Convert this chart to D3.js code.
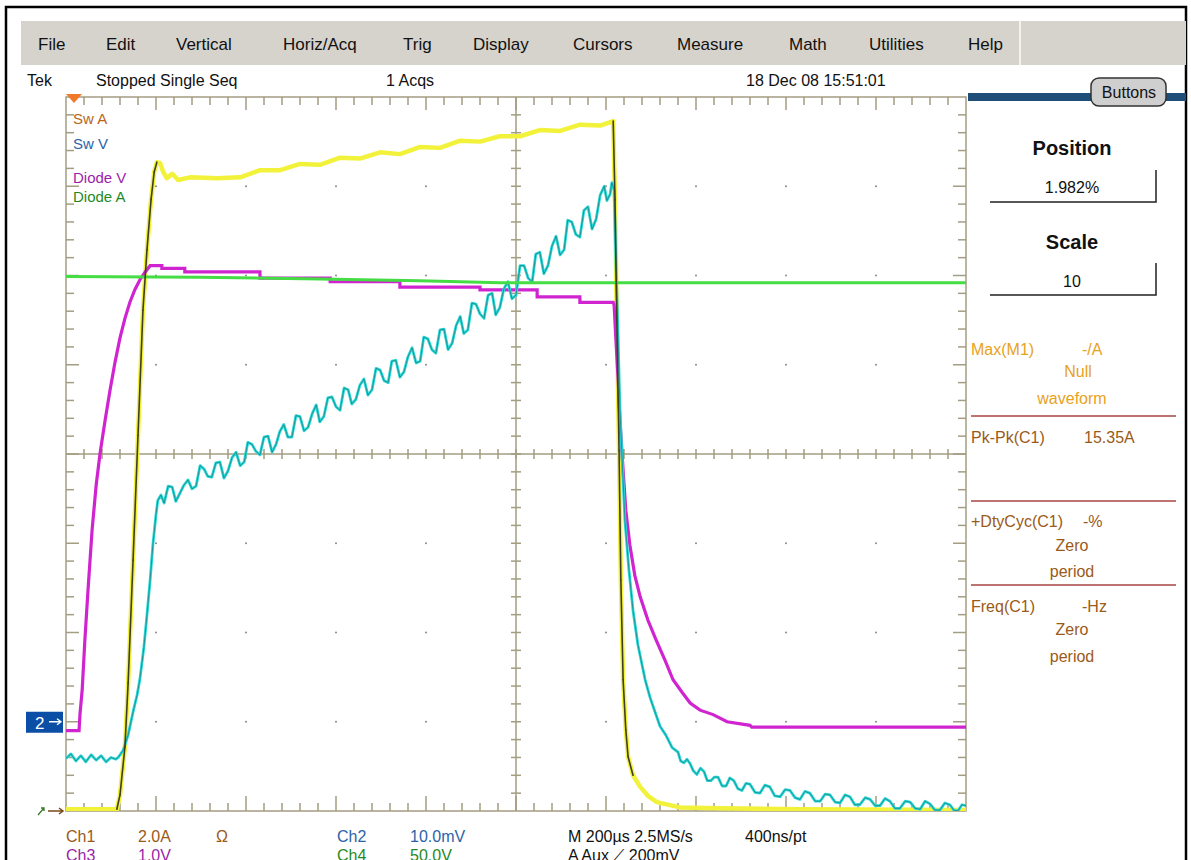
<!DOCTYPE html>
<html lang="en">
<head>
<meta charset="UTF-8">
<title>Tek scope capture</title>
<style>
    body { margin: 0; padding: 0; background: #ffffff; overflow: hidden; }
    svg { display: block; }
    text { font-family: "Liberation Sans", Arial, sans-serif; }
</style>
<script src="https://d3js.org/d3.v7.min.js"></script>
</head>
<body>
<div id="scope"></div>
<script>
// time in µs (200 µs/div), value in graticule divisions (-4 .. 4)
const ch1 = [ // Sw A, yellow
    [0, -3.98], [113, -3.98], [120, -3.82], [131, -3.28], [138, -2.57], [149, -1.19],
    [160, 0.21], [171, 1.61], [180, 2.29], [189, 2.85], [196, 3.16], [202, 3.27],
    [209, 3.26], [216, 3.16], [224, 3.09], [236, 3.14], [249, 3.07], [276, 3.10],
    [336, 3.09], [387, 3.10], [431, 3.18], [476, 3.18], [520, 3.25], [564, 3.24],
    [609, 3.32], [653, 3.31], [698, 3.38], [742, 3.36], [787, 3.44], [831, 3.43],
    [876, 3.51], [920, 3.50], [964, 3.56], [1009, 3.56], [1053, 3.63], [1098, 3.62],
    [1142, 3.69], [1187, 3.68], [1216, 3.73], [1220, 2.85], [1224, 1.50], [1229, 0.04],
    [1233, -1.41], [1238, -2.53], [1244, -3.09], [1249, -3.39], [1260, -3.60],
    [1276, -3.73], [1293, -3.83], [1313, -3.90], [1364, -3.96], [1453, -3.97],
    [1631, -3.98], [2000, -3.99]
];

const ch2 = [ // Sw V, cyan
    [0, -3.41], [11, -3.36], [22, -3.44], [33, -3.38], [44, -3.45], [56, -3.37],
    [67, -3.43], [78, -3.38], [89, -3.45], [100, -3.40], [111, -3.42], [116, -3.40],
    [127, -3.32], [138, -3.15], [149, -2.89], [158, -2.70], [164, -2.53], [173, -2.17],
    [180, -1.80], [187, -1.41], [193, -1.02], [200, -0.68], [204, -0.52], [211, -0.46],
    [218, -0.55], [227, -0.36], [236, -0.37], [244, -0.53], [253, -0.44], [262, -0.35],
    [271, -0.29], [280, -0.39], [289, -0.36], [298, -0.13], [307, -0.17], [315, -0.25],
    [324, -0.26], [333, -0.10], [342, -0.09], [351, -0.27], [360, -0.19], [369, -0.04],
    [378, 0.02], [387, -0.13], [396, -0.09], [404, 0.13], [413, 0.11], [422, 0.03],
    [431, -0.01], [440, 0.19], [449, 0.20], [458, 0.02], [467, 0.11], [475, 0.25],
    [484, 0.33], [493, 0.19], [502, 0.19], [511, 0.43], [520, 0.42], [529, 0.26],
    [538, 0.30], [547, 0.45], [556, 0.55], [564, 0.36], [573, 0.42], [582, 0.63],
    [591, 0.64], [600, 0.53], [609, 0.49], [618, 0.74], [627, 0.72], [635, 0.56],
    [644, 0.61], [653, 0.77], [662, 0.84], [671, 0.66], [680, 0.72], [689, 0.96],
    [698, 0.94], [707, 0.82], [716, 0.80], [724, 1.04], [733, 1.05], [742, 0.86],
    [751, 0.92], [760, 1.09], [769, 1.19], [778, 1.02], [787, 1.04], [795, 1.31],
    [804, 1.29], [813, 1.17], [822, 1.13], [831, 1.39], [840, 1.40], [849, 1.17],
    [858, 1.24], [867, 1.44], [876, 1.54], [884, 1.35], [893, 1.39], [902, 1.69],
    [911, 1.68], [920, 1.57], [929, 1.52], [938, 1.78], [947, 1.80], [955, 1.56],
    [964, 1.64], [973, 1.85], [982, 1.93], [991, 1.74], [1000, 1.78], [1009, 2.11],
    [1018, 2.11], [1027, 1.97], [1036, 1.93], [1044, 2.24], [1053, 2.26], [1062, 2.02],
    [1071, 2.11], [1080, 2.33], [1089, 2.44], [1098, 2.23], [1107, 2.29], [1115, 2.62],
    [1124, 2.60], [1133, 2.46], [1142, 2.43], [1151, 2.73], [1160, 2.77], [1169, 2.52],
    [1178, 2.63], [1187, 2.90], [1196, 3.00], [1202, 2.84], [1209, 2.91], [1213, 3.04],
    [1218, 2.96], [1222, 2.17], [1227, 1.28], [1231, 0.49], [1236, -0.07], [1242, -0.74],
    [1251, -1.30], [1260, -1.75], [1271, -2.14], [1287, -2.53], [1298, -2.73],
    [1309, -2.89], [1320, -3.05], [1333, -3.15], [1347, -3.29], [1360, -3.34],
    [1366, -3.44], [1373, -3.46], [1380, -3.42], [1387, -3.47], [1394, -3.55],
    [1402, -3.59], [1410, -3.52], [1418, -3.56], [1425, -3.66], [1433, -3.66],
    [1441, -3.62], [1449, -3.62], [1458, -3.72], [1467, -3.72], [1475, -3.63],
    [1484, -3.66], [1493, -3.75], [1502, -3.77], [1511, -3.69], [1520, -3.70],
    [1531, -3.79], [1542, -3.80], [1553, -3.71], [1564, -3.73], [1575, -3.83],
    [1587, -3.84], [1598, -3.76], [1609, -3.77], [1620, -3.85], [1631, -3.87],
    [1642, -3.78], [1653, -3.80], [1665, -3.89], [1676, -3.89], [1687, -3.81],
    [1698, -3.82], [1709, -3.90], [1720, -3.91], [1731, -3.82], [1742, -3.84],
    [1753, -3.93], [1764, -3.93], [1776, -3.85], [1787, -3.87], [1798, -3.94],
    [1809, -3.94], [1820, -3.86], [1831, -3.89], [1842, -3.97], [1853, -3.97],
    [1865, -3.89], [1876, -3.90], [1887, -3.97], [1898, -3.98], [1909, -3.89],
    [1920, -3.92], [1931, -3.99], [1942, -3.99], [1953, -3.91], [1964, -3.93],
    [1973, -3.99], [1982, -4.00], [1991, -3.93], [2000, -3.94]
];

const ch3 = [ // Diode V, magenta
    [0, -3.10], [29, -3.10], [31, -2.92], [36, -2.64], [42, -2.08], [49, -1.52],
    [58, -0.85], [67, -0.35], [76, 0.02], [87, 0.38], [98, 0.72], [109, 1.03],
    [120, 1.30], [131, 1.52], [142, 1.70], [153, 1.84], [164, 1.95], [176, 2.04],
    [187, 2.11], [213, 2.11], [213, 2.08], [264, 2.08], [264, 2.04], [431, 2.04],
    [431, 1.97], [587, 1.97], [587, 1.93], [742, 1.93], [742, 1.87], [920, 1.87],
    [920, 1.84], [1047, 1.84], [1047, 1.76], [1142, 1.76], [1142, 1.70], [1216, 1.70],
    [1218, 1.67], [1222, 1.28], [1227, 0.83], [1231, 0.38], [1238, -0.18],
    [1244, -0.63], [1253, -1.02], [1264, -1.36], [1276, -1.60], [1293, -1.86],
    [1311, -2.08], [1331, -2.31], [1349, -2.53], [1369, -2.67], [1387, -2.79],
    [1409, -2.87], [1438, -2.92], [1469, -3.00], [1520, -3.04], [1524, -3.06],
    [2000, -3.06]
];

const ch4 = [ // Diode A, green
    [0, 1.99], [298, 1.98], [564, 1.96], [787, 1.94], [964, 1.92], [2000, 1.92]
];

const menuItems = ["File", "Edit", "Vertical", "Horiz/Acq", "Trig", "Display",
                   "Cursors", "Measure", "Math", "Utilities", "Help"];
const menuX = [38, 106, 176, 283, 403, 473, 573, 677, 789, 869, 968];

const legendLabels = ["Sw A", "Sw V", "Diode V", "Diode A"];
const legendColors = ["#b8661c", "#2a64a8", "#9a1fa8", "#1f8a1f"];
const legendY = [124, 149, 183, 202];

const W = 1191, H = 860;
const plot = { left: 66, right: 966, top: 97, bottom: 811 };

const svg = d3.select("#scope").append("svg")
    .attr("width", W).attr("height", H);

const x = d3.scaleLinear().domain([0, 2000]).range([plot.left, plot.right]);
const y = d3.scaleLinear().domain([-4, 4]).range([plot.bottom, plot.top]);

// outer frame
svg.append("rect").attr("x", 6).attr("y", 7).attr("width", 1180).attr("height", 870)
    .attr("fill", "none").attr("stroke", "#000").attr("stroke-width", 2.5);

// menu bar
svg.append("rect").attr("x", 21).attr("y", 21).attr("width", 1165).attr("height", 44)
    .attr("fill", "#d6d3cc");
svg.append("line").attr("x1", 1020).attr("x2", 1020).attr("y1", 21).attr("y2", 65)
    .attr("stroke", "#f4f2ee").attr("stroke-width", 2);
svg.selectAll(".menu").data(menuItems).join("text")
    .attr("x", (d, i) => menuX[i]).attr("y", 50)
    .attr("font-size", 17).attr("fill", "#111").text(d => d);

// status row
const status = [["Tek", 27], ["Stopped  Single Seq", 96], ["1 Acqs", 386], ["18 Dec 08 15:51:01", 746]];
svg.selectAll(".status").data(status).join("text")
    .attr("x", d => d[1]).attr("y", 86).attr("font-size", 16).attr("fill", "#111")
    .text(d => d[0]);

// right panel
svg.append("rect").attr("x", 968).attr("y", 93).attr("width", 218).attr("height", 8)
    .attr("fill", "#1f4f79");
svg.append("rect").attr("x", 1091).attr("y", 78).attr("width", 75).attr("height", 28)
    .attr("rx", 8).attr("fill", "#cfcfcf").attr("stroke", "#333").attr("stroke-width", 1.5);
svg.append("text").attr("x", 1129).attr("y", 98).attr("text-anchor", "middle")
    .attr("font-size", 16).attr("fill", "#111").text("Buttons");

const ctrl = [["Position", "1.982%", 155, 193, 202], ["Scale", "10", 249, 287, 295]];
ctrl.forEach(c => {
    svg.append("text").attr("x", 1072).attr("y", c[2]).attr("text-anchor", "middle")
        .attr("font-size", 20).attr("font-weight", "bold").attr("fill", "#111").text(c[0]);
    svg.append("text").attr("x", 1072).attr("y", c[3]).attr("text-anchor", "middle")
        .attr("font-size", 16).attr("fill", "#111").text(c[1]);
    svg.append("path").attr("d", `M990,${c[4]}H1156V${c[4] - 32}`)
        .attr("fill", "none").attr("stroke", "#222").attr("stroke-width", 1.5);
});

const measLines = [
    [["Max(M1)", 971, "start"], ["-/A", 1082, "start"], ["Null", 1078, "middle"], ["waveform", 1072, "middle"]],
    [["Pk-Pk(C1)", 971, "start"], ["15.35A", 1084, "start"]],
    [["+DtyCyc(C1)", 971, "start"], ["-%", 1083, "start"], ["Zero", 1072, "middle"], ["period", 1072, "middle"]],
    [["Freq(C1)", 971, "start"], ["-Hz", 1082, "start"], ["Zero", 1072, "middle"], ["period", 1072, "middle"]]
];
const measY = [[355, 355, 377, 404], [443, 443], [527, 527, 551, 577], [612, 612, 635, 662]];
const measColor = ["#e8a21c", "#9a5a18", "#9a5a18", "#9a5a18"];
measLines.forEach((group, gi) => {
    group.forEach((m, mi) => {
        svg.append("text").attr("x", m[1]).attr("y", measY[gi][mi])
            .attr("text-anchor", m[2]).attr("font-size", 16)
            .attr("fill", measColor[gi]).text(m[0]);
    });
});
[416, 501, 585].forEach(yy => {
    svg.append("line").attr("x1", 971).attr("x2", 1176).attr("y1", yy).attr("y2", yy)
        .attr("stroke", "#a84444").attr("stroke-width", 1.5);
});

// graticule
const grat = svg.append("g").attr("stroke", "#a39d82").attr("fill", "none");
grat.append("rect").attr("x", plot.left).attr("y", plot.top)
    .attr("width", plot.right - plot.left).attr("height", plot.bottom - plot.top)
    .attr("stroke-width", 1.5);
grat.append("line").attr("x1", plot.left).attr("x2", plot.right)
    .attr("y1", y(0)).attr("y2", y(0)).attr("stroke-width", 1.5);
grat.append("line").attr("x1", x(1000)).attr("x2", x(1000))
    .attr("y1", plot.top).attr("y2", plot.bottom).attr("stroke-width", 1.5);

const tMinor = d3.range(40, 2000, 40);
const vMinor = d3.range(-3.8, 4, 0.2).map(v => +v.toFixed(1));
tMinor.forEach(t => {
    const major = Math.abs(t % 200) < 1e-6;
    grat.append("line").attr("x1", x(t)).attr("x2", x(t))
        .attr("y1", plot.top).attr("y2", plot.top + (major ? 13 : 8)).attr("stroke-width", 1.5);
    grat.append("line").attr("x1", x(t)).attr("x2", x(t))
        .attr("y1", plot.bottom).attr("y2", plot.bottom - (major ? 15 : 8)).attr("stroke-width", 1.5);
    grat.append("line").attr("x1", x(t)).attr("x2", x(t))
        .attr("y1", y(0) - 5).attr("y2", y(0) + 5).attr("stroke-width", 1.5);
});
vMinor.forEach(v => {
    const major = Math.abs(v - Math.round(v)) < 1e-6;
    grat.append("line").attr("x1", plot.left).attr("x2", plot.left + (major ? 13 : 8))
        .attr("y1", y(v)).attr("y2", y(v)).attr("stroke-width", 1.5);
    grat.append("line").attr("x1", plot.right).attr("x2", plot.right - (major ? 13 : 8))
        .attr("y1", y(v)).attr("y2", y(v)).attr("stroke-width", 1.5);
    grat.append("line").attr("x1", x(1000) - 5).attr("x2", x(1000) + 5)
        .attr("y1", y(v)).attr("y2", y(v)).attr("stroke-width", 1.5);
});
// dots at major intersections
const tMajor = d3.range(200, 2000, 200), vMajor = d3.range(-3, 4, 1);
tMajor.forEach(t => vMajor.forEach(v => {
    if (t === 1000 || v === 0) return;
    svg.append("circle").attr("cx", x(t)).attr("cy", y(v)).attr("r", 1).attr("fill", "#8a8a8a");
}));

// waveforms
svg.append("clipPath").attr("id", "clip").append("rect")
    .attr("x", plot.left).attr("y", plot.top - 2)
    .attr("width", plot.right - plot.left).attr("height", plot.bottom - plot.top + 2);
const traces = svg.append("g").attr("clip-path", "url(#clip)");
const line = d3.line().x(d => x(d[0])).y(d => y(d[1]));

traces.append("path").datum(ch1).attr("d", line).attr("fill", "none")
    .attr("stroke", "#f2f23a").attr("stroke-width", 4.5).attr("stroke-linejoin", "round");
traces.append("path").datum(ch3).attr("d", line).attr("fill", "none")
    .attr("stroke", "#d024d0").attr("stroke-width", 3.2);
traces.append("path").datum(ch2).attr("d", line).attr("fill", "none")
    .attr("stroke", "#2ad8d8").attr("stroke-width", 2.8).attr("stroke-linejoin", "round");
traces.append("path").datum(ch2).attr("d", line).attr("fill", "none")
    .attr("stroke", "#0f5656").attr("stroke-width", 1).attr("stroke-opacity", 0.5);
traces.append("path").datum(ch4).attr("d", line).attr("fill", "none")
    .attr("stroke", "#44dd44").attr("stroke-width", 3);

// dark core on the steep yellow edges
const steep = d3.pairs(ch1).filter(([a, b]) =>
    Math.abs(y(b[1]) - y(a[1])) > 3 * Math.abs(x(b[0]) - x(a[0])));
traces.selectAll(".edge").data(steep).join("line")
    .attr("x1", d => x(d[0][0])).attr("y1", d => y(d[0][1]))
    .attr("x2", d => x(d[1][0])).attr("y2", d => y(d[1][1]))
    .attr("stroke", "#3e3e26").attr("stroke-width", 1.6).attr("stroke-linecap", "round");

// legend labels
svg.selectAll(".leg").data(legendLabels).join("text")
    .attr("x", 73).attr("y", (d, i) => legendY[i]).attr("font-size", 15)
    .attr("fill", (d, i) => legendColors[i]).text(d => d);

// markers
svg.append("path").attr("d", `M${plot.left},94L${plot.left + 16},94L${plot.left + 8},103Z`)
    .attr("fill", "#f07a2a");
svg.append("rect").attr("x", 26).attr("y", y(-3) - 10).attr("width", 37).attr("height", 21)
    .attr("fill", "#0b4ea6");
svg.append("text").attr("x", 35).attr("y", y(-3) + 7).attr("font-size", 17)
    .attr("fill", "#fff").text("2");
svg.append("path").attr("d", `M49,${y(-3)}H61M57,${y(-3) - 3}L61,${y(-3)}L57,${y(-3) + 3}`)
    .attr("fill", "none").attr("stroke", "#fff").attr("stroke-width", 1.3);
svg.append("path").attr("d", `M38,${y(-4) + 4}L44,${y(-4) - 3}M41,${y(-4) - 3}H44V${y(-4)}`)
    .attr("fill", "none").attr("stroke", "#3a7a2a").attr("stroke-width", 1.3);
svg.append("path").attr("d", `M48,${y(-4)}H63M59,${y(-4) - 3}L63,${y(-4)}L59,${y(-4) + 3}`)
    .attr("fill", "none").attr("stroke", "#7a4a1a").attr("stroke-width", 1.5);

// bottom readout
const readout = [
    ["Ch1", 66, 842, "#9a5a18"], ["2.0A", 138, 842, "#9a5a18"], ["Ω", 216, 842, "#9a5a18"],
    ["Ch2", 337, 842, "#2a64a8"], ["10.0mV", 410, 842, "#2a64a8"],
    ["M 200µs 2.5MS/s", 568, 842, "#111"], ["400ns/pt", 745, 842, "#111"],
    ["Ch3", 66, 861, "#9a1fa8"], ["1.0V", 138, 861, "#9a1fa8"],
    ["Ch4", 337, 861, "#1f8a1f"], ["50.0V", 410, 861, "#1f8a1f"],
    ["A  Aux  ⟋  200mV", 568, 861, "#111"]
];
svg.selectAll(".ro").data(readout).join("text")
    .attr("x", d => d[1]).attr("y", d => d[2]).attr("font-size", 16)
    .attr("fill", d => d[3]).text(d => d[0]);
</script>
</body>
</html>
